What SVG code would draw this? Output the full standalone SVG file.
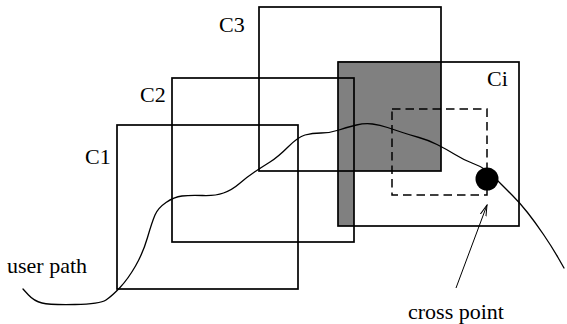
<svg xmlns="http://www.w3.org/2000/svg" width="567" height="324" viewBox="0 0 567 324">
<style>
.box{fill:none;stroke:#000;stroke-width:1.7}
.lbl{font-family:"Liberation Serif","Times New Roman",serif;font-size:22px;fill:#000}
.curve{fill:none;stroke:#000;stroke-width:1.3;stroke-linecap:round;stroke-linejoin:round}
</style>
<defs>
<marker id="ah" markerWidth="12" markerHeight="8" refX="11" refY="4" orient="auto" markerUnits="userSpaceOnUse">
<path d="M0,1 L11,4 L0,7" fill="none" stroke="#000" stroke-width="1"/>
</marker>
</defs>
<rect width="567" height="324" fill="#fff"/>
<g id="overlap">
<path d="M338,61 H441 V171 H354 V226 H338 Z" fill="#808080"/>
</g>
<g id="C1"><rect class="box" x="117" y="125" width="181" height="164"/><text class="lbl" x="85" y="164">C1</text></g>
<g id="C2"><rect class="box" x="172" y="78" width="182" height="164"/><text class="lbl" x="140" y="102">C2</text></g>
<g id="C3"><rect class="box" x="259" y="7" width="182" height="164"/><text class="lbl" x="219" y="32">C3</text></g>
<g id="Ci"><rect class="box" x="338" y="62" width="181" height="164"/><text class="lbl" x="487" y="86">Ci</text></g>
<g id="window"><rect x="392" y="109" width="95" height="86" fill="none" stroke="#000" stroke-width="1.5" stroke-dasharray="8.5,5"/></g>
<g id="connectors">
<path class="curve" d="M23,289 L28.5,295 Q34,301 42,303 Q50,305 75,304.5 Q100,304 106,300 Q112,296 120,287.5 Q128,279 135.5,266 Q143,253 147.5,237.5 Q152,222 155,215 Q158,208 166,202.5 Q174,197 182,196 Q190,195 202.5,195.5 Q215,196 223.5,193 Q232,190 239.5,183.5 Q247,177 254.5,172 Q262,167 270,162 Q278,157 288,147 Q298,137 305,135 Q312,133 321,133 Q330,133 339,130 Q348,127 356.5,125 Q365,123 372.5,124 Q380,125 387.5,127.5 Q395,130 402.5,132.5 Q410,135 419,137.5 Q428,140 437,144.5 Q446,149 455,154.5 Q464,160 472,163 Q480,166 485,169.5 Q490,173 497.5,180.5 Q505,188 512.5,195.5 Q520,203 527.5,212.5 Q535,222 543.5,234.5 Q552,247 558,257.5 L564,268"/>
<line x1="456" y1="288" x2="487" y2="205" stroke="#000" stroke-width="1" marker-end="url(#ah)"/>
</g>
<g id="crosspoint"><circle cx="487" cy="179" r="11.5" fill="#000"/></g>
<g id="labels">
<text class="lbl" x="7" y="273">user path</text>
<text class="lbl" x="408" y="319">cross point</text>
</g>
</svg>
